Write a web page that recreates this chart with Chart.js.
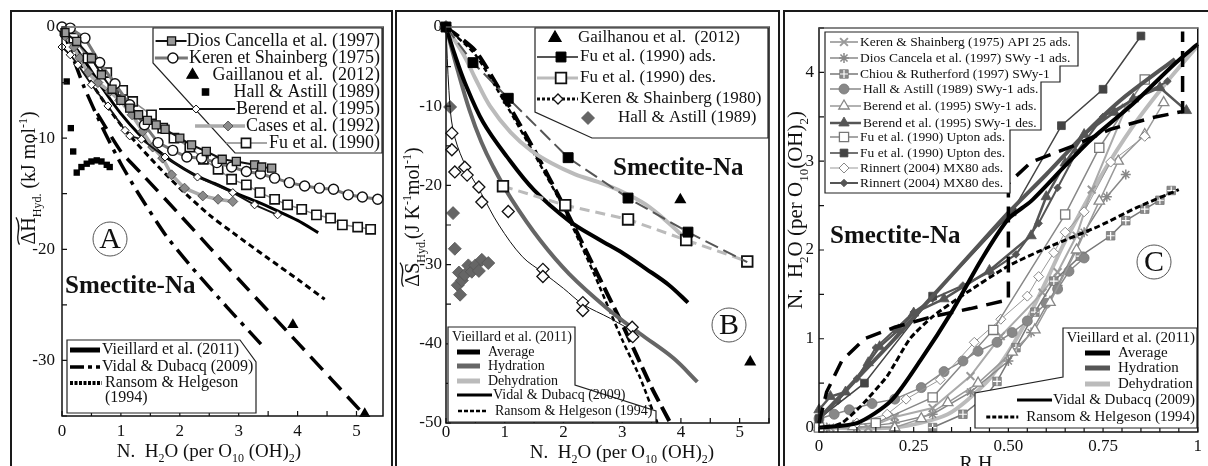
<!DOCTYPE html>
<html lang="en">
<head>
<meta charset="UTF-8">
<title>Smectite-Na hydration: enthalpy, entropy and isotherms</title>
<style>
  html, body { margin: 0; padding: 0; background: #fff; }
  #page { position: relative; width: 1208px; height: 466px; overflow: hidden; }
  canvas { position: absolute; left: 0; top: 0; }
  .frame { position: absolute; box-sizing: border-box; border: 2px solid #1a1a1a; }
</style>
</head>
<body>
<div id="page">
  <div class="frame" style="left:10px;top:10px;width:383px;height:480px"></div>
  <div class="frame" style="left:395px;top:10px;width:385px;height:480px"></div>
  <div class="frame" style="left:783px;top:10px;width:440px;height:480px"></div>
  <canvas id="chartA" width="1208" height="466"></canvas>
  <canvas id="chartB" width="1208" height="466"></canvas>
  <canvas id="chartC" width="1208" height="466"></canvas>
</div>
<script src="https://cdn.jsdelivr.net/npm/chart.js"></script>
<script>
const SERIF = '"Liberation Serif", "Times New Roman", serif';

// ---------- panel A : enthalpy (kJ/mol) vs N. H2O ----------
const aXTicks = [0, 1, 2, 3, 4, 5];
const aYTicks = [0, -10, -20, -30];
const aDiosX = [0.05, 0.25, 0.5, 0.67, 0.85, 1.0, 1.15, 1.3, 1.45, 1.6, 1.75, 2.0, 2.2, 2.45, 2.72, 2.96, 3.27, 3.39, 3.56];
const aDiosY = [-0.5, -1.3, -2.8, -4.3, -5.6, -6.6, -7.3, -7.9, -8.4, -8.8, -9.2, -10.0, -10.6, -11.2, -11.9, -12.1, -12.4, -12.6, -12.7];
const aKerenX = [0, 0.14, 0.39, 0.64, 0.9, 1.15, 1.4, 1.63, 1.88, 2.12, 2.37, 2.63, 2.88, 3.13, 3.37, 3.61, 3.86, 4.12, 4.37, 4.61, 4.86, 5.1, 5.36];
const aKerenY = [0, -0.1, -1.0, -3.2, -5.1, -7.0, -8.8, -10.4, -11.1, -11.7, -11.8, -12.2, -12.6, -13.0, -13.2, -13.6, -14.0, -14.3, -14.5, -14.6, -15.1, -15.3, -15.5];
const aGailX = [3.92, 5.14];
const aGailY = [-26.8, -34.8];
const aHallX = [0.08, 0.15, 0.19, 0.25, 0.33, 0.42, 0.5, 0.59, 0.67, 0.76, 0.81];
const aHallY = [-4.9, -9.1, -11.2, -13.1, -12.6, -12.3, -12.1, -12.0, -12.1, -12.4, -12.6];
const aBerendX = [0, 0.14, 0.27, 0.5, 0.78, 1.07, 1.15, 1.35, 1.75, 2.3, 2.9, 3.27, 3.66];
const aBerendY = [-1.8, -2.5, -3.4, -5.2, -7.1, -9.3, -9.8, -10.1, -11.7, -13.5, -14.9, -16.0, -16.9];
const aCasesX = [0.05, 0.2, 0.3, 0.44, 0.61, 0.81, 0.98, 1.19, 1.37, 1.54, 1.71, 1.86, 2.08, 2.39, 2.65, 2.9];
const aCasesY = [-0.8, -1.8, -2.8, -4.1, -5.0, -5.8, -6.6, -7.9, -9.4, -10.8, -11.8, -13.3, -14.5, -15.2, -15.5, -15.7];
const aFuX = [0.05, 0.2, 0.44, 0.76, 1.03, 1.2, 1.52, 1.71, 1.9, 2.17, 2.4, 2.65, 2.88, 3.13, 3.36, 3.61, 3.83, 4.07, 4.32, 4.56, 4.76, 5.02, 5.24];
const aFuY = [-0.3, -1.0, -2.8, -4.1, -5.7, -6.7, -7.9, -9.1, -10.0, -10.8, -11.9, -12.8, -13.7, -14.2, -14.9, -15.5, -16.0, -16.4, -16.9, -17.2, -17.8, -18.0, -18.2];
const aVieilX = [0, 0.2, 0.44, 0.7, 1.0, 1.3, 1.6, 1.9, 2.25, 2.6, 2.93, 3.3, 3.64, 4.0, 4.35];
const aVieilY = [0, -1.6, -3.5, -5.6, -7.8, -9.6, -11.0, -12.2, -13.3, -14.1, -14.9, -15.7, -16.5, -17.4, -18.5];
const aVidalX = [0, 0.36, 0.7, 1.0, 1.3, 1.77, 2.2, 2.8, 3.39];
const aVidalY = [0, -5.2, -9.2, -12.3, -15.0, -18.8, -21.6, -25.2, -28.6];
const aVidal2X = [0.6, 1.0, 1.37, 2.0, 3.0, 4.0, 5.15];
const aVidal2Y = [-7.8, -11.2, -13.3, -16.9, -22.7, -28.4, -35.0];
const aRansomX = [0, 0.5, 1.0, 1.5, 2.0, 2.5, 2.9, 3.47, 4.0, 4.46];
const aRansomY = [0, -5.0, -8.8, -11.8, -14.5, -16.9, -18.5, -20.7, -22.7, -24.5];

// ---------- panel B : entropy (J/K/mol) vs N. H2O ----------
const bXTicks = [0, 1, 2, 3, 4, 5];
const bYTicks = [0, -10, -20, -30, -40, -50];
const bGailX = [3.99, 5.18];
const bGailY = [-21.8, -42.3];
const bFuAdsX = [0, 0.46, 1.06, 2.08, 3.1, 4.12];
const bFuAdsY = [0, -4.5, -9.0, -16.5, -21.6, -25.9];
const bFuAdsEnd = { x: 5.13, y: -29.7 };
const bFuDesX = [0.97, 2.03, 3.1, 4.09, 5.13];
const bFuDesY = [-20.1, -22.5, -24.3, -26.9, -29.6];
const bKerenX = [0.1, 0.1, 0.15, 0.32, 0.36, 0.56, 0.61, 1.06, 1.65, 1.65, 2.33, 2.33, 3.17, 3.18];
const bKerenY = [-13.4, -15.5, -18.3, -17.7, -18.7, -20.2, -22.1, -23.3, -30.6, -31.5, -34.8, -35.8, -37.9, -39.1];
const bKerenFitX = [0, 0.05, 0.12, 0.3, 0.6, 0.9, 1.3, 1.65, 2.0, 2.33, 2.8, 3.2];
const bKerenFitY = [0, -8, -13, -17, -21, -25, -29, -31, -33, -35, -36.8, -38.5];
const bHallX = [0, 0.07, 0.12, 0.15, 0.2, 0.24, 0.22, 0.27, 0.32, 0.38, 0.44, 0.5, 0.56, 0.61, 0.72];
const bHallY = [0, -10.1, -23.5, -28.0, -32.6, -33.8, -31.0, -32.0, -31.3, -30.1, -30.9, -30.1, -30.8, -29.4, -29.8];
const bAvgX = [0, 0.15, 0.32, 0.63, 1.04, 1.5, 2.1, 2.6, 3.02, 3.4, 3.8, 4.12];
const bAvgY = [0, -3.5, -7.0, -12.0, -16.4, -20.6, -24.5, -26.8, -28.6, -30.5, -32.6, -34.8];
const bHydX = [0, 0.2, 0.4, 0.6, 0.8, 1.12, 1.6, 2.1, 2.74, 3.3, 3.87, 4.28];
const bHydY = [0, -5.5, -10.5, -14.5, -17.6, -21.8, -26.9, -31.2, -35.5, -38.7, -41.8, -44.8];
const bDehX = [0, 0.3, 0.5, 0.75, 1.1, 1.45, 1.8, 2.2, 2.6, 3.0, 3.4, 3.8, 4.2];
const bDehY = [0, -3.5, -6.5, -10.0, -13.3, -15.6, -17.2, -18.6, -19.6, -20.8, -22.4, -24.8, -27.6];
const bVidalX = [0, 0.5, 1.0, 1.5, 2.0, 2.5, 3.0, 3.5, 3.82];
const bVidalY = [0, -3, -9, -15.5, -22.5, -30, -37.5, -45.5, -50];
const bRansomX = [0, 0.5, 1.0, 1.5, 2.0, 2.5, 3.0, 3.3, 3.6];
const bRansomY = [0, -3.5, -9.5, -16, -22.8, -30.8, -39.5, -44.2, -50];

// ---------- panel C : N. H2O vs relative humidity ----------
const cXTicks = [0, 0.25, 0.5, 0.75, 1];
const cXLabels = ['0', '0.25', '0.50', '0.75', '1'];
const cYTicks = [0, 1, 2, 3, 4];
const cKerenX = [0, 0.03, 0.13, 0.2, 0.3, 0.4, 0.48, 0.59, 0.63, 0.68, 0.72, 0.81];
const cKerenY = [0, 0, 0, 0.12, 0.22, 0.58, 1.03, 1.52, 1.75, 2.16, 2.68, 3.6];
const cDiosX = [0.02, 0.1, 0.2, 0.3, 0.4, 0.5, 0.56, 0.63, 0.7, 0.76, 0.81];
const cDiosY = [0, 0, 0.05, 0.15, 0.4, 0.75, 1.07, 1.6, 2.2, 2.6, 2.85];
const cChiouX = [0.3, 0.38, 0.44, 0.47, 0.52, 0.57, 0.62, 0.69, 0.77, 0.81, 0.86, 0.9, 0.93];
const cChiouY = [0, 0.15, 0.35, 0.52, 0.9, 1.3, 1.65, 1.93, 2.16, 2.33, 2.46, 2.56, 2.67];
const cHallX = [0, 0.04, 0.08, 0.14, 0.2, 0.27, 0.33, 0.38, 0.42, 0.47, 0.51, 0.55, 0.6, 0.63, 0.66, 0.7];
const cHallY = [0.1, 0.15, 0.2, 0.27, 0.32, 0.45, 0.63, 0.75, 0.86, 0.96, 1.07, 1.2, 1.4, 1.56, 1.76, 1.91];
const cBerAdsX = [0, 0.09, 0.2, 0.27, 0.34, 0.42, 0.51, 0.57, 0.61, 0.68, 0.74, 0.79, 0.86, 0.91];
const cBerAdsY = [0, 0.01, 0, 0.1, 0.28, 0.5, 0.85, 1.1, 1.41, 2.0, 2.55, 3.0, 3.3, 3.66];
const cBerDesX = [0, 0.03, 0.07, 0.13, 0.16, 0.21, 0.25, 0.33, 0.45, 0.56, 0.6, 0.65, 0.7, 0.78, 0.83, 0.9, 0.97];
const cBerDesY = [0.2, 0.35, 0.4, 0.73, 0.91, 1.1, 1.29, 1.45, 1.77, 2.16, 2.6, 2.98, 3.3, 3.55, 3.7, 3.83, 3.57];
const cFuAdsX = [0, 0.15, 0.3, 0.46, 0.65, 0.74, 0.86];
const cFuAdsY = [0, 0.05, 0.34, 1.1, 2.4, 3.15, 3.92];
const cFuDesX = [0, 0.12, 0.3, 0.51, 0.64, 0.75, 0.85];
const cFuDesY = [0.1, 0.5, 1.48, 2.43, 3.4, 3.81, 4.41];
const cRinAdsX = [0, 0.1, 0.18, 0.23, 0.32, 0.41, 0.48, 0.55, 0.58, 0.62, 0.65, 0.7, 0.77, 0.86];
const cRinAdsY = [0, 0.05, 0.15, 0.32, 0.54, 0.96, 1.22, 1.48, 1.7, 1.97, 2.2, 2.43, 2.99, 3.28];
const cRinDesX = [0, 0.05, 0.1, 0.15, 0.2, 0.25, 0.3, 0.38, 0.45, 0.52, 0.58, 0.63, 0.68, 0.75, 0.83, 0.92];
const cRinDesY = [0.1, 0.3, 0.55, 0.9, 1.1, 1.3, 1.45, 1.6, 1.75, 1.95, 2.3, 2.7, 3.1, 3.5, 3.7, 3.9];
const cAvgX = [0, 0.1, 0.19, 0.27, 0.35, 0.43, 0.5, 0.56, 0.65, 0.72, 0.83, 0.94, 1.0];
const cAvgY = [0, 0.05, 0.3, 0.77, 1.3, 1.9, 2.35, 2.55, 2.95, 3.25, 3.65, 4.1, 4.32];
const cHydX = [0, 0.1, 0.2, 0.3, 0.4, 0.5, 0.6, 0.7, 0.8, 0.94];
const cHydY = [0.1, 0.55, 1.0, 1.48, 1.95, 2.42, 2.85, 3.3, 3.7, 4.15];
const cDehX = [0, 0.2, 0.34, 0.44, 0.5, 0.55, 0.6, 0.65, 0.74, 0.83, 0.92, 1.0];
const cDehY = [0, 0, 0.15, 0.5, 0.85, 1.22, 1.65, 2.1, 2.8, 3.4, 3.9, 4.3];
const cVidalX = [0, 0.02, 0.06, 0.12, 0.2, 0.3, 0.4, 0.5, 0.5, 0.56, 0.67, 0.77, 0.88, 0.96, 0.96];
const cVidalY = [0.05, 0.4, 0.75, 1.0, 1.13, 1.25, 1.34, 1.44, 2.75, 2.99, 3.17, 3.36, 3.49, 3.56, 4.46];
const cRansomX = [0.02, 0.06, 0.11, 0.18, 0.24, 0.3, 0.39, 0.5, 0.61, 0.74, 0.84, 0.95];
const cRansomY = [0, 0.05, 0.24, 0.58, 1.0, 1.25, 1.52, 1.82, 2.04, 2.27, 2.48, 2.68];

// ---------- styles ----------
const sA = {
  dios:   { line: '#111', lw: 2, shape: 'rect', r: 5.7, fill: '#9a9a9a', edge: '#111', bw: 1.3 },
  keren:  { line: '#777', lw: 3, shape: 'circle', r: 5, fill: '#fff', edge: '#111', bw: 1.4 },
  gail:   { shape: 'triangle', r: 6.5, fill: '#000', edge: '#000', bw: 0 },
  hall:   { shape: 'rect', r: 4.5, fill: '#000', edge: '#000', bw: 0 },
  berend: { line: '#111', lw: 1.8, shape: 'rectRot', r: 4, fill: '#fff', edge: '#111', bw: 1 },
  cases:  { line: '#aaa', lw: 3.5, shape: 'rectRot', r: 5, fill: '#8a8a8a', edge: '#444', bw: 0.8 },
  fu:     { line: '#888', lw: 1.5, shape: 'rect', r: 6.5, fill: '#fff', edge: '#111', bw: 1.6 },
  vieil:  { line: '#000', lw: 3, tension: 0.3 },
  vidal:  { line: '#000', lw: 3.5, dash: [18, 7, 4, 7], tension: 0.2 },
  vidal2: { line: '#000', lw: 3.5, dash: [18, 9], tension: 0.2 },
  ransom: { line: '#000', lw: 3, dash: [6, 4], tension: 0.3 }
};
const sB = {
  gail:   { shape: 'triangle', r: 7, fill: '#000', edge: '#000', bw: 0 },
  fuAds:  { line: '#555', lw: 2, dash: [14, 6], shape: 'rect', r: 7, fill: '#000', edge: '#000', bw: 1 },
  fuDes:  { line: '#bbb', lw: 3, dash: [10, 6], shape: 'rect', r: 7.5, fill: '#fff', edge: '#111', bw: 1.8 },
  keren:  { shape: 'rectRot', r: 6, fill: '#fff', edge: '#111', bw: 1.3 },
  kerenFit: { line: '#111', lw: 1, tension: 0.35 },
  hall:   { shape: 'rectRot', r: 6.5, fill: '#666', edge: '#555', bw: 0.8 },
  avg:    { line: '#000', lw: 4, tension: 0.35 },
  hyd:    { line: '#666', lw: 4, tension: 0.35 },
  deh:    { line: '#bbb', lw: 4, tension: 0.35 },
  vidal:  { line: '#000', lw: 4, dash: [16, 6], tension: 0.2 },
  ransom: { line: '#000', lw: 2.5, dash: [5, 3], tension: 0.2 }
};
const sC = {
  keren:  { line: '#aaa', lw: 2, shape: 'crossRot', r: 5.5, fill: '#aaa', edge: '#999', bw: 2 },
  dios:   { line: '#888', lw: 1.5, shape: 'star', r: 5, fill: '#999', edge: '#888', bw: 1.5 },
  chiou:  { line: '#777', lw: 1.5, shape: 'rect', r: 6, fill: '#8a8a8a', edge: '#777', bw: 0.8 },
  chiouX: { shape: 'cross', r: 4, fill: '#fff', edge: '#fff', bw: 1.2 },
  hall:   { line: '#888', lw: 1.5, shape: 'circle', r: 5, fill: '#888', edge: '#777', bw: 0.8 },
  berAds: { line: '#999', lw: 1.5, shape: 'triangle', r: 6, fill: '#fff', edge: '#888', bw: 1.3 },
  berDes: { line: '#555', lw: 2.5, shape: 'triangle', r: 6, fill: '#555', edge: '#555', bw: 0.8 },
  fuAds:  { line: '#888', lw: 1.5, shape: 'rect', r: 6.5, fill: '#fff', edge: '#777', bw: 1.3 },
  fuDes:  { line: '#444', lw: 1.5, shape: 'rect', r: 5.5, fill: '#444', edge: '#444', bw: 0.8 },
  rinAds: { line: '#999', lw: 1, shape: 'rectRot', r: 5, fill: '#fff', edge: '#888', bw: 1 },
  rinDes: { line: '#555', lw: 2, shape: 'rectRot', r: 3.8, fill: '#555', edge: '#555', bw: 0.8 },
  avg:    { line: '#000', lw: 4, tension: 0.25 },
  hyd:    { line: '#555', lw: 4, tension: 0.25 },
  deh:    { line: '#bbb', lw: 4, tension: 0.25 },
  vidal:  { line: '#000', lw: 3.5, dash: [16, 9] },
  ransom: { line: '#000', lw: 3, dash: [6, 3], tension: 0.2 }
};

// ---------- helpers ----------
function pts(xs, ys) { return xs.map((x, i) => ({ x: x, y: ys[i] })); }

function series(data, st) {
  return {
    data: data,
    showLine: !!st.line,
    borderColor: st.line || 'rgba(0,0,0,0)',
    borderWidth: st.lw || 0,
    borderDash: st.dash || [],
    tension: st.tension || 0,
    pointStyle: st.shape || 'circle',
    pointRadius: st.shape ? st.r : 0,
    pointBackgroundColor: st.fill || '#000',
    pointBorderColor: st.edge || '#000',
    pointBorderWidth: st.bw === undefined ? 1.2 : st.bw,
    clip: false
  };
}

function axis(o, size, dim) {
  return {
    type: 'linear', min: o.min, max: o.max,
    grid: { display: false, drawTicks: false },
    border: { display: false },
    afterFit: s => { s[dim] = size; },
    afterBuildTicks: s => { s.ticks = o.ticks.map(v => ({ value: v })); },
    ticks: {
      font: { family: SERIF, size: 17, lineHeight: 1 }, color: '#111',
      padding: o.pad, maxRotation: 0, autoSkip: false,
      callback: o.labels ? (v, i) => o.labels[i] : v => String(v)
    }
  };
}

function makeChart(id, box, xo, yo, datasets, decorate) {
  const W = 1208, H = 466, YW = 50, XH = 30;
  return new Chart(document.getElementById(id), {
    type: 'scatter',
    data: { datasets: datasets },
    options: {
      responsive: false, animation: false, events: [],
      layout: { padding: { left: box.l - YW, right: W - box.r, top: box.t, bottom: H - box.b - XH } },
      plugins: { legend: { display: false }, tooltip: { enabled: false } },
      scales: { x: axis(xo, XH, 'height'), y: axis(yo, YW, 'width') }
    },
    plugins: [{ id: 'decor', afterDraw: c => decorate(c.ctx, c) }]
  });
}

function marker(ctx, st, x, y) {
  ctx.save();
  ctx.fillStyle = st.fill; ctx.strokeStyle = st.edge;
  ctx.lineWidth = st.bw === undefined ? 1.2 : st.bw;
  Chart.helpers.drawPoint(ctx, { pointStyle: st.shape, radius: st.r, rotation: 0, borderWidth: ctx.lineWidth }, x, y);
  ctx.restore();
}

function frame(ctx, a, topColor) {
  ctx.save();
  ctx.lineWidth = 1.5; ctx.strokeStyle = '#111';
  ctx.strokeRect(a.left, a.top, a.right - a.left, a.bottom - a.top);
  if (topColor) {
    ctx.strokeStyle = topColor; ctx.beginPath();
    ctx.moveTo(a.left, a.top); ctx.lineTo(a.right, a.top); ctx.stroke();
  }
  ctx.restore();
}

function innerTicks(ctx, c, xFrom, xTo, xN, yFrom, yTo, yN, len) {
  const a = c.chartArea, sx = c.scales.x, sy = c.scales.y;
  ctx.save(); ctx.lineWidth = 1.2; ctx.strokeStyle = '#111'; ctx.beginPath();
  for (let i = 0; i <= xN; i++) {
    const px = sx.getPixelForValue(xFrom + (xTo - xFrom) * i / xN);
    ctx.moveTo(px, a.bottom); ctx.lineTo(px, a.bottom - len);
  }
  for (let i = 0; i <= yN; i++) {
    const py = sy.getPixelForValue(yFrom + (yTo - yFrom) * i / yN);
    ctx.moveTo(a.left, py); ctx.lineTo(a.left + len, py);
  }
  ctx.stroke(); ctx.restore();
}

function legend(ctx, poly, rows, size) {
  ctx.save();
  ctx.beginPath();
  poly.forEach((p, i) => i ? ctx.lineTo(p[0], p[1]) : ctx.moveTo(p[0], p[1]));
  ctx.closePath();
  ctx.fillStyle = '#fff'; ctx.fill();
  ctx.lineWidth = 1.2; ctx.strokeStyle = '#222'; ctx.stroke();
  ctx.font = size + 'px ' + SERIF; ctx.textBaseline = 'middle'; ctx.textAlign = 'left';
  rows.forEach(r => {
    const w = ctx.measureText(r.text).width;
    const tx = r.right !== undefined ? r.right - w : r.x;
    ctx.fillStyle = '#111';
    ctx.fillText(r.text, tx, r.y);
    if (r.st && r.s && r.st.line) {
      ctx.save();
      ctx.strokeStyle = r.st.line; ctx.lineWidth = r.lw || r.st.lw;
      ctx.setLineDash(r.dash || r.st.dash || []);
      ctx.beginPath(); ctx.moveTo(tx + r.s[0], r.y); ctx.lineTo(tx + r.s[1], r.y); ctx.stroke();
      ctx.restore();
    }
    if (r.st && r.m !== undefined && r.st.shape) marker(ctx, r.st, tx + r.m, r.y);
    if (r.st2 && r.m !== undefined) marker(ctx, r.st2, tx + r.m, r.y);
  });
  ctx.restore();
}

// text with sub/superscripts; y is the baseline
function rich(ctx, parts, x, y, size, align) {
  const f = k => (k ? Math.round(size * 0.62) : size) + 'px ' + SERIF;
  let w = 0;
  parts.forEach(p => { ctx.font = f(p[1]); w += ctx.measureText(p[0]).width; });
  let cx = align === 'center' ? x - w / 2 : x;
  const starts = [];
  ctx.textBaseline = 'alphabetic'; ctx.textAlign = 'left'; ctx.fillStyle = '#111';
  parts.forEach(p => {
    ctx.font = f(p[1]);
    const dy = p[1] === 'sub' ? size * 0.28 : p[1] === 'sup' ? -size * 0.38 : 0;
    starts.push(cx);
    ctx.fillText(p[0], cx, y + dy);
    cx += ctx.measureText(p[0]).width;
  });
  starts.push(cx);
  return starts;
}

function tilde(ctx, x1, x2, y) {
  const w = x2 - x1;
  ctx.save(); ctx.lineWidth = 1.3; ctx.strokeStyle = '#111'; ctx.beginPath();
  ctx.moveTo(x1, y + 1.5);
  ctx.bezierCurveTo(x1 + w * 0.3, y - 4, x1 + w * 0.6, y + 5, x2, y - 2);
  ctx.stroke(); ctx.restore();
}

function vTitle(ctx, parts, cx, cy, size, withTilde) {
  ctx.save();
  ctx.translate(cx, cy); ctx.rotate(-Math.PI / 2);
  const s = rich(ctx, parts, 0, 0, size, 'center');
  if (withTilde) tilde(ctx, s[0], s[1], -size * 0.85);
  ctx.restore();
}

const h2oTitle = [['N.  H', ''], ['2', 'sub'], ['O (per O', ''], ['10', 'sub'], [' (OH)', ''], ['2', 'sub'], [')', '']];

function boldLabel(ctx, text, x, y, size) {
  ctx.save();
  ctx.font = 'bold ' + size + 'px ' + SERIF; ctx.fillStyle = '#111';
  ctx.textAlign = 'left'; ctx.textBaseline = 'alphabetic';
  ctx.fillText(text, x, y);
  ctx.restore();
}

function circled(ctx, letter, x, y) {
  ctx.save();
  ctx.beginPath(); ctx.arc(x, y, 17, 0, Math.PI * 2);
  ctx.lineWidth = 1; ctx.strokeStyle = '#555'; ctx.stroke();
  ctx.font = '30px ' + SERIF; ctx.fillStyle = '#111';
  ctx.textAlign = 'center'; ctx.textBaseline = 'middle';
  ctx.fillText(letter, x, y + 1);
  ctx.restore();
}

// ---------- panel A ----------
makeChart('chartA', { l: 62, r: 383, t: 27, b: 416 },
  { min: 0, max: 5.45, ticks: aXTicks, pad: 7 },
  { min: -35, max: 0, ticks: aYTicks, pad: 7 },
  [
    series(pts(aGailX, aGailY), sA.gail),
    series(pts(aHallX, aHallY), sA.hall),
    series(pts(aDiosX, aDiosY), sA.dios),
    series(pts(aKerenX, aKerenY), sA.keren),
    series(pts(aFuX, aFuY), sA.fu),
    series(pts(aBerendX, aBerendY), sA.berend),
    series(pts(aCasesX, aCasesY), sA.cases),
    series(pts(aVieilX, aVieilY), sA.vieil),
    series(pts(aRansomX, aRansomY), sA.ransom),
    series(pts(aVidalX, aVidalY), sA.vidal),
    series(pts(aVidal2X, aVidal2Y), sA.vidal2)
  ],
  (ctx, c) => {
    frame(ctx, c.chartArea, '#999');
    innerTicks(ctx, c, 0, 5, 10, -35, 0, 7, 5);
    legend(ctx, [[153, 28], [382, 28], [382, 153], [235, 153], [153, 63]], [
      { text: 'Dios Cancella et al. (1997)', right: 380, y: 41, st: sA.dios, s: [-31, 0], m: -15 },
      { text: 'Keren et Shainberg (1975)', right: 380, y: 58, st: sA.keren, s: [-34, -1], m: -16 },
      { text: 'Gaillanou et al.  (2012)', right: 380, y: 75, st: sA.gail, m: -20 },
      { text: 'Hall & Astill (1989)', right: 380, y: 92, st: sA.hall, m: -28 },
      { text: 'Berend et al. (1995)', right: 380, y: 109, st: sA.berend, s: [-77, -1], m: -40 },
      { text: 'Cases et al. (1992)', right: 380, y: 126, st: sA.cases, s: [-51, -1], m: -18 },
      { text: 'Fu et al. (1990)', right: 380, y: 143, st: sA.fu, s: [-43, -2], m: -23 }
    ], 18);
    legend(ctx, [[67, 340], [240, 340], [256, 362], [256, 413], [67, 413]], [
      { text: 'Vieillard et al. (2011)', x: 102, y: 350, st: sA.vieil, s: [-32, -2], lw: 5 },
      { text: 'Vidal & Dubacq (2009)', x: 102, y: 367, st: sA.vidal, s: [-32, -2], dash: [14, 4, 4, 4] },
      { text: 'Ransom & Helgeson', x: 105, y: 383, st: sA.ransom, s: [-35, -3], dash: [3, 1.5], lw: 4 },
      { text: '(1994)', x: 105, y: 398 }
    ], 16);
    boldLabel(ctx, 'Smectite-Na', 65, 293, 25);
    circled(ctx, 'A', 110, 239);
    rich(ctx, h2oTitle, 209, 457, 19, 'center');
    vTitle(ctx, [['\u0394H', ''], ['Hyd.', 'sub'], [' (kJ mol', ''], ['-1', 'sup'], [')', '']], 35, 178, 20, true);
  });

// ---------- panel B ----------
makeChart('chartB', { l: 446, r: 769, t: 27, b: 423 },
  { min: 0, max: 5.5, ticks: bXTicks, pad: 1 },
  { min: -50, max: 0, ticks: bYTicks, pad: 4 },
  [
    series(pts(bGailX, bGailY), sB.gail),
    series(pts(bFuAdsX, bFuAdsY), Object.assign({}, sB.fuAds, { line: null })),
    series(pts(bFuAdsX, bFuAdsY).concat([bFuAdsEnd]), Object.assign({}, sB.fuAds, { shape: null })),
    series(pts(bFuDesX, bFuDesY), sB.fuDes),
    series(pts(bKerenX, bKerenY), sB.keren),
    series(pts(bKerenFitX, bKerenFitY), sB.kerenFit),
    series(pts(bHallX, bHallY), sB.hall),
    series(pts(bAvgX, bAvgY), sB.avg),
    series(pts(bHydX, bHydY), sB.hyd),
    series(pts(bDehX, bDehY), sB.deh),
    series(pts(bRansomX, bRansomY), sB.ransom),
    series(pts(bVidalX, bVidalY), sB.vidal)
  ],
  (ctx, c) => {
    frame(ctx, c.chartArea, '#999');
    innerTicks(ctx, c, 0, 5.5, 11, -50, 0, 10, 5);
    legend(ctx, [[535, 28], [768, 28], [768, 138], [592, 138], [535, 112]], [
      { text: 'Gailhanou et al.  (2012)', x: 578, y: 38, st: sB.gail, m: -23 },
      { text: 'Fu et al. (1990) ads.', x: 580, y: 57, st: sB.fuAds, s: [-43, -2], m: -19, dash: [] },
      { text: 'Fu et al. (1990) des.', x: 580, y: 78, st: sB.fuDes, s: [-43, -2], m: -19, dash: [] },
      { text: 'Keren & Shainberg (1980)', x: 580, y: 99, st: { line: '#111', lw: 3, dash: [3, 2], shape: 'rectRot', r: 5, fill: '#fff', edge: '#111', bw: 1.3 }, s: [-43, -2], m: -22 },
      { text: 'Hall & Astill (1989)', x: 618, y: 118, st: sB.hall, m: -30 }
    ], 17);
    legend(ctx, [[448, 327], [575, 327], [575, 385], [656, 411], [656, 422], [448, 422]], [
      { text: 'Vieillard et al. (2011)', x: 452, y: 337 },
      { text: 'Average', x: 488, y: 352, st: sB.avg, s: [-31, -8], lw: 5 },
      { text: 'Hydration', x: 488, y: 366, st: sB.hyd, s: [-31, -8], lw: 5 },
      { text: 'Dehydration', x: 488, y: 381, st: sB.deh, s: [-31, -8], lw: 5 },
      { text: 'Vidal & Dubacq (2009)', x: 493, y: 395, st: sB.vidal, s: [-36, -1], dash: [], lw: 3 },
      { text: 'Ransom & Helgeson (1994)', x: 495, y: 411, st: sB.ransom, s: [-37, -8], dash: [4, 2] }
    ], 14);
    boldLabel(ctx, 'Smectite-Na', 613, 175, 25);
    circled(ctx, 'B', 729, 325);
    rich(ctx, h2oTitle, 622, 458, 19, 'center');
    vTitle(ctx, [['\u0394S', ''], ['Hyd.', 'sub'], ['(J K', ''], ['-1', 'sup'], ['mol', ''], ['-1', 'sup'], [')', '']], 419, 217, 20, true);
  });

// ---------- panel C ----------
makeChart('chartC', { l: 819, r: 1200, t: 28, b: 432 },
  { min: 0, max: 1, ticks: cXTicks, labels: cXLabels, pad: 6 },
  { min: -0.05, max: 4.5, ticks: cYTicks, pad: 5 },
  [
    series(pts(cAvgX, cAvgY), sC.avg),
    series(pts(cVidalX, cVidalY), sC.vidal),
    series(pts(cRansomX, cRansomY), sC.ransom),
    series(pts(cHydX, cHydY), sC.hyd),
    series(pts(cFuDesX, cFuDesY), sC.fuDes),
    series(pts(cBerDesX, cBerDesY), sC.berDes),
    series(pts(cRinDesX, cRinDesY), sC.rinDes),
    series(pts(cFuAdsX, cFuAdsY), sC.fuAds),
    series(pts(cRinAdsX, cRinAdsY), sC.rinAds),
    series(pts(cBerAdsX, cBerAdsY), sC.berAds),
    series(pts(cHallX, cHallY), sC.hall),
    series(pts(cChiouX, cChiouY), sC.chiouX),
    series(pts(cChiouX, cChiouY), sC.chiou),
    series(pts(cDiosX, cDiosY), sC.dios),
    series(pts(cKerenX, cKerenY), sC.keren),
    series(pts(cDehX, cDehY), sC.deh)
  ],
  (ctx, c) => {
    frame(ctx, c.chartArea, '#999');
    innerTicks(ctx, c, 0, 1, 20, 0, 4.5, 9, 5);
    legend(ctx, [[825, 32], [1078, 32], [1078, 66], [1060, 66], [1060, 82], [1041, 82], [1041, 130], [1010, 130], [1010, 193], [825, 193]], [
      { text: 'Keren & Shainberg (1975) API 25 ads.', x: 860, y: 42, st: sC.keren, s: [-30, -2], m: -16 },
      { text: 'Dios Cancela et al. (1997) SWy -1 ads.', x: 860, y: 58, st: sC.dios, s: [-30, -2], m: -16 },
      { text: 'Chiou & Rutherford (1997) SWy-1', x: 860, y: 74, st: sC.chiou, st2: sC.chiouX, s: [-30, -2], m: -16 },
      { text: 'Hall & Astill (1989) SWy-1 ads.', x: 863, y: 89, st: sC.hall, s: [-33, -2], m: -19 },
      { text: 'Berend et al. (1995) SWy-1 ads.', x: 863, y: 106, st: sC.berAds, s: [-33, -2], m: -19 },
      { text: 'Berend et al. (1995) SWy-1 des.', x: 863, y: 123, st: sC.berDes, s: [-33, -2], m: -19 },
      { text: 'Fu et al. (1990) Upton ads.', x: 860, y: 137, st: sC.fuAds, s: [-30, -2], m: -16 },
      { text: 'Fu et al. (1990) Upton des.', x: 860, y: 153, st: sC.fuDes, s: [-30, -2], m: -16 },
      { text: 'Rinnert (2004) MX80 ads.', x: 860, y: 168, st: sC.rinAds, s: [-30, -2], m: -16 },
      { text: 'Rinnert (2004) MX80 des.', x: 860, y: 183, st: sC.rinDes, s: [-30, -2], m: -16 }
    ], 13.5);
    legend(ctx, [[1063, 328], [1197, 328], [1197, 428], [975, 428], [975, 393], [1063, 377]], [
      { text: 'Vieillard et al. (2011)', right: 1195, y: 338 },
      { text: 'Average', x: 1118, y: 353, st: sC.avg, s: [-33, -8], lw: 5 },
      { text: 'Hydration', x: 1118, y: 368, st: sC.hyd, s: [-33, -8], lw: 5 },
      { text: 'Dehydration', x: 1118, y: 384, st: sC.deh, s: [-33, -8], lw: 5 },
      { text: 'Vidal & Dubacq (2009)', right: 1195, y: 400, st: sC.vidal, s: [-36, -1], dash: [], lw: 3 },
      { text: 'Ransom & Helgeson (1994)', right: 1195, y: 417, st: sC.ransom, s: [-40, -8], dash: [4, 2] }
    ], 15);
    boldLabel(ctx, 'Smectite-Na', 830, 243, 25);
    circled(ctx, 'C', 1154, 262);
    ctx.save();
    ctx.font = '20px ' + SERIF; ctx.fillStyle = '#111'; ctx.textAlign = 'center'; ctx.textBaseline = 'alphabetic';
    ctx.fillText('R.H', 976, 470);
    ctx.restore();
    vTitle(ctx, [['N.  H', ''], ['2', 'sub'], ['O (per O', ''], ['10', 'sub'], ['(OH)', ''], ['2', 'sub'], [')', '']], 802, 210, 21, false);
  });
</script>
</body>
</html>
